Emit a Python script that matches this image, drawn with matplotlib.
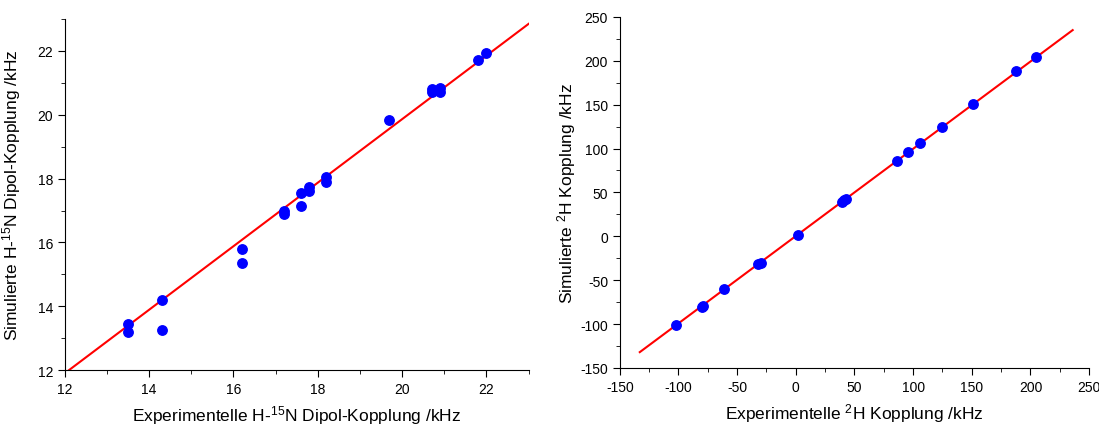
import matplotlib.pyplot as plt
from matplotlib.ticker import MultipleLocator

plt.rcParams['font.family'] = ['Liberation Sans', 'DejaVu Sans']
plt.rcParams['mathtext.fontset'] = 'custom'
plt.rcParams['mathtext.rm'] = 'Liberation Sans'
plt.rcParams['mathtext.it'] = 'Liberation Sans'
plt.rcParams['axes.unicode_minus'] = False

# H-15N Dipol-Kopplung (kHz)
nh_exp = [13.5, 13.5, 14.3, 14.3, 16.2, 16.2, 17.2, 17.2, 17.6, 17.6, 17.8, 17.8,
          18.2, 18.2, 19.7, 20.7, 20.7, 20.9, 20.9, 21.8, 22.0]
nh_sim = [13.45, 13.2, 14.2, 13.27, 15.78, 15.35, 17.0, 16.9, 17.55, 17.15, 17.75, 17.6,
          18.05, 17.9, 19.85, 20.8, 20.72, 20.85, 20.73, 21.73, 21.93]
nh_fit_x = [12.0, 23.0]
nh_fit_y = [11.9, 22.85]

# 2H Kopplung (kHz)
d_exp = [-102, -80, -79, -61, -32, -30, 2, 39, 41, 43, 86, 96, 106, 125, 151, 188, 205]
d_sim = [-101, -80, -79, -60, -31, -30, 2, 39, 41, 43, 86, 96, 106, 125, 151, 188, 204]
d_fit_x = [-133, 236]
d_fit_y = [-132, 235]

fig = plt.figure(figsize=(10.99, 4.27), dpi=100)
ax1 = fig.add_axes([0.059, 0.131, 0.422, 0.822])
ax2 = fig.add_axes([0.564, 0.136, 0.427, 0.822])

for ax in (ax1, ax2):
    ax.spines['top'].set_visible(False)
    ax.spines['right'].set_visible(False)
    ax.tick_params(which='major', direction='out', length=5, labelsize=10)
    ax.tick_params(which='minor', direction='out', length=3)

ax1.plot(nh_fit_x, nh_fit_y, color='red', lw=1.5)
ax1.plot(nh_exp, nh_sim, 'o', color='blue', ms=6.8, mec='blue')
ax1.set_xlim(12, 23)
ax1.set_ylim(12, 23)
ax1.xaxis.set_major_locator(MultipleLocator(2))
ax1.xaxis.set_minor_locator(MultipleLocator(1))
ax1.yaxis.set_major_locator(MultipleLocator(2))
ax1.yaxis.set_minor_locator(MultipleLocator(1))
ax1.set_xlabel(r'Experimentelle H-$^{\mathregular{15}}$N Dipol-Kopplung /kHz', fontsize=12.5, labelpad=5)
ax1.set_ylabel(r'Simulierte H-$^{\mathregular{15}}$N Dipol-Kopplung /kHz', fontsize=12.5, labelpad=10)

ax2.plot(d_fit_x, d_fit_y, color='red', lw=1.5)
ax2.plot(d_exp, d_sim, 'o', color='blue', ms=6.8, mec='blue')
ax2.set_xlim(-150, 250)
ax2.set_ylim(-150, 250)
ax2.xaxis.set_major_locator(MultipleLocator(50))
ax2.xaxis.set_minor_locator(MultipleLocator(25))
ax2.yaxis.set_major_locator(MultipleLocator(50))
ax2.yaxis.set_minor_locator(MultipleLocator(25))
ax2.set_xlabel(r'Experimentelle $^{\mathregular{2}}$H Kopplung /kHz', fontsize=12.5, labelpad=5)
ax2.set_ylabel(r'Simulierte $^{\mathregular{2}}$H Kopplung /kHz', fontsize=12.5, labelpad=2)

fig.savefig('out.png', dpi=100)
